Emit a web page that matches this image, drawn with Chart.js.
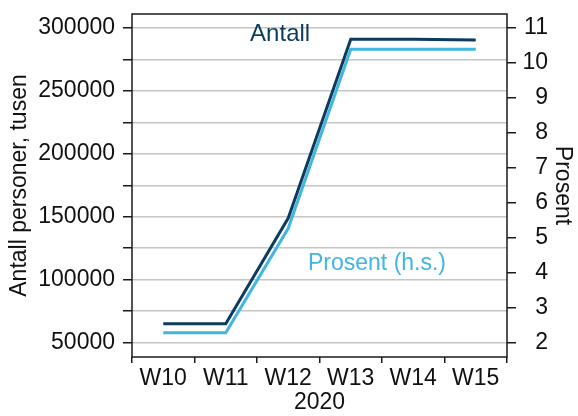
<!DOCTYPE html>
<html>
<head>
<meta charset="utf-8">
<script src="https://cdn.jsdelivr.net/npm/chart.js@4"></script>
<style>
  html, body { margin: 0; padding: 0; background: #fff; }
</style>
</head>
<body>
<canvas id="chart" width="578" height="416"></canvas>
<script>
// data
const weeks = ['W10', 'W11', 'W12', 'W13', 'W14', 'W15'];
const antall = [65000, 65000, 149000, 291000, 291000, 290500];   // left axis, thousands of persons
const prosent = [2.28, 2.28, 5.27, 10.39, 10.39, 10.39];        // right axis, percent
const leftTicks = [50000, 75000, 100000, 125000, 150000, 175000, 200000, 225000, 250000, 275000, 300000];
const rightTicks = [2, 3, 4, 5, 6, 7, 8, 9, 10, 11];

const dark = '#0c3b5e';
const light = '#41b6df';
const axisColor = '#1a1a1a';
const font = 'Liberation Sans, Arial, sans-serif';

// in-chart labels, placed in data coordinates
const notes = [
    { text: 'Antall', x: 1.87, y: 295000, axis: 'y', color: dark, size: 24 },
    { text: 'Prosent (h.s.)', x: 3.42, y: 4.26, axis: 'y1', color: light, size: 23 }
];

const frame = {
    id: 'frame',
    afterDatasetsDraw(chart) {
        const ctx = chart.ctx;
        const a = chart.chartArea;
        ctx.save();
        ctx.strokeStyle = axisColor;
        ctx.lineWidth = 1.5;
        ctx.strokeRect(a.left, a.top, a.right - a.left, a.bottom - a.top);
        ctx.textAlign = 'center';
        ctx.textBaseline = 'middle';
        notes.forEach(n => {
            ctx.font = n.size + 'px ' + font;
            ctx.fillStyle = n.color;
            ctx.fillText(n.text, chart.scales.x.getPixelForValue(n.x), chart.scales[n.axis].getPixelForValue(n.y));
        });
        ctx.restore();
    }
};

function fixed(size) {
    return function (scale) {
        if (scale.isHorizontal()) scale.height = size; else scale.width = size;
        scale.paddingTop = 0;
        scale.paddingBottom = 0;
        scale.paddingLeft = 0;
        scale.paddingRight = 0;
    };
}

const ctx = document.getElementById('chart').getContext('2d');
new Chart(ctx, {
    type: 'line',
    data: {
        labels: weeks,
        datasets: [{
            label: 'Antall',
            data: antall,
            yAxisID: 'y',
            borderColor: dark,
            borderWidth: 3,
            pointRadius: 0,
            tension: 0
        }, {
            label: 'Prosent (h.s.)',
            data: prosent,
            yAxisID: 'y1',
            borderColor: light,
            borderWidth: 3,
            pointRadius: 0,
            tension: 0
        }]
    },
    options: {
        responsive: false,
        animation: false,
        layout: { padding: { top: 14, left: 0, right: 30, bottom: 0 } },
        plugins: {
            legend: { display: false },
            tooltip: { enabled: false }
        },
        scales: {
            x: {
                offset: true,
                afterFit: fixed(59),
                grid: { offset: true, drawOnChartArea: false, tickLength: 6, tickColor: axisColor, lineWidth: 1.5 },
                border: { display: false },
                ticks: { color: '#111', font: { family: font, size: 23 }, padding: 2, maxRotation: 0 },
                title: { display: true, text: '2020', color: '#111', font: { family: font, size: 23 }, padding: 0 }
            },
            y: {
                position: 'left',
                min: 38550,
                max: 311140,
                afterFit: fixed(132),
                afterBuildTicks: s => { s.ticks = leftTicks.map(v => ({ value: v })); },
                grid: { color: '#c6c6c6', lineWidth: 1.5, tickLength: 9, tickColor: axisColor },
                border: { display: false },
                ticks: {
                    color: '#111', font: { family: font, size: 23 }, padding: 8,
                    callback: v => (v % 50000 === 0 ? String(v) : '')
                },
                title: { display: true, text: 'Antall personer, tusen', color: '#111', font: { family: font, size: 23 }, padding: { top: 6 } }
            },
            y1: {
                position: 'right',
                min: 1.588,
                max: 11.40,
                afterFit: fixed(41),
                afterBuildTicks: s => { s.ticks = rightTicks.map(v => ({ value: v })); },
                grid: { drawOnChartArea: false, tickLength: 9, tickColor: axisColor, lineWidth: 1.5 },
                border: { display: false },
                ticks: { color: '#111', font: { family: font, size: 23 }, padding: 7, crossAlign: 'far' },
                title: { display: true, text: 'Prosent', color: '#111', font: { family: font, size: 23 }, padding: { top: -28 } }
            }
        }
    },
    plugins: [frame]
});
</script>
</body>
</html>
